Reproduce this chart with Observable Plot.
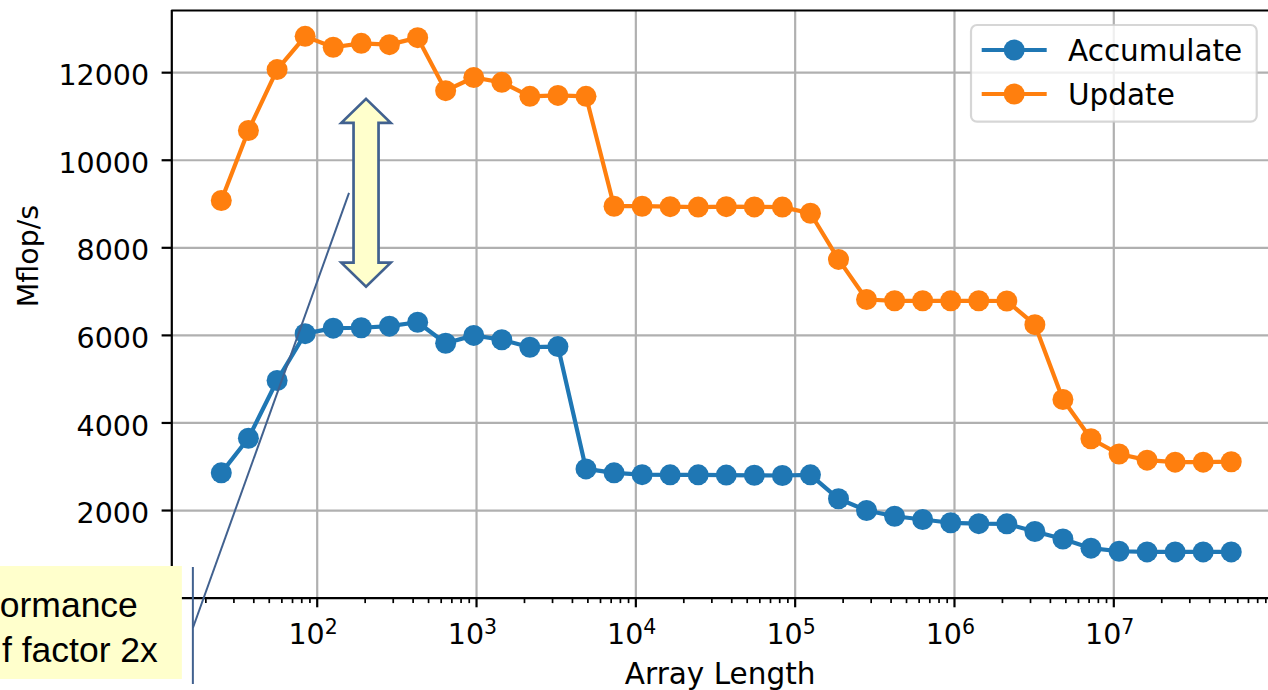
<!DOCTYPE html>
<html><head><meta charset="utf-8">
<script src="https://cdn.jsdelivr.net/npm/d3@7"></script>
<script src="https://cdn.jsdelivr.net/npm/@observablehq/plot@0.6"></script>
<style>
html,body{margin:0;padding:0;background:#fff}
#chart{width:1268px;height:690px;overflow:hidden;position:relative}
</style>
</head><body><div id="chart"></div><script>
// ---- data ----
const sizes = [25, 37, 56, 84, 126, 189, 284, 427, 640, 961, 1441, 2162, 3243, 4865, 7298,
  10947, 16421, 24632, 36948, 55422, 83133, 124700, 187050, 280575, 420863, 631294, 946941,
  1420412, 2130618, 3195927, 4793891, 7190836, 10786254, 16179381, 24269072, 36403608, 54605412];
const accumulate = [2860, 3650, 4970, 6040, 6165, 6175, 6210, 6300, 5820, 6000, 5900, 5730, 5745,
  2950, 2860, 2820, 2815, 2815, 2810, 2805, 2800, 2815, 2268, 2000, 1870, 1795, 1720, 1700, 1696,
  1520, 1350, 1140, 1070, 1055, 1055, 1055, 1055];
const update = [9080, 10680, 12070, 12830, 12580, 12670, 12640, 12800, 11590, 11890, 11780, 11460,
  11480, 11460, 8950, 8950, 8940, 8930, 8940, 8935, 8930, 8790, 7735, 6820, 6790, 6790, 6790, 6790,
  6785, 6245, 4535, 3640, 3290, 3150, 3105, 3105, 3115];
const seriesNames = ["Accumulate", "Update"];
const seriesColors = ["#1f77b4", "#ff7f0e"];
const yTicks = [2000, 4000, 6000, 8000, 10000, 12000];
const xMajor = [1e2, 1e3, 1e4, 1e5, 1e6, 1e7];
const xMajorExp = ["2", "3", "4", "5", "6", "7"];
const xLabel = "Array Length";
const yLabel = "Mflop/s";
const noteLines = ["ormance", "f factor 2x"];

// ---- build table ----
const rows = [
  ...sizes.map((s, i) => ({size: s, value: accumulate[i], series: seriesNames[0]})),
  ...sizes.map((s, i) => ({size: s, value: update[i], series: seriesNames[1]}))
];
const xMinor = [];
for (let e = 1; e <= 7; e++) for (let m = 2; m <= 9; m++) xMinor.push(m * 10 ** e);

const W = 1268, H = 690;
const xDomain = [10 ** 1.0873, 10 ** 7.971];
const yDomain = [0, 13420];
const grid = {stroke: "#b0b0b0", strokeOpacity: 1, strokeWidth: 2.2};
const spine = {stroke: "black", strokeWidth: 2.2};
const FS = 28.5;

const plot = Plot.plot({
  width: W, height: H,
  marginLeft: 171.3, marginTop: 10, marginBottom: 92.4, marginRight: 0,
  style: {fontFamily: "DejaVu Sans", fontSize: FS + "px", background: "white", color: "black"},
  x: {type: "log", domain: xDomain},
  y: {domain: yDomain},
  color: {domain: seriesNames, range: seriesColors},
  marks: [
    Plot.gridX(xMajor, grid),
    Plot.gridY(yTicks, grid),
    Plot.line(rows, {x: "size", y: "value", stroke: "series", strokeWidth: 4.2}),
    Plot.dot(rows, {x: "size", y: "value", fill: "series", r: 10.5}),
    Plot.ruleX([xDomain[0]], spine),
    Plot.ruleY([yDomain[0]], spine),
    Plot.ruleY([yDomain[1]], spine),
    Plot.axisY(yTicks, {tickSize: 9.7, strokeWidth: 2.2, tickFormat: () => "", label: null}),
    Plot.axisX(xMinor, {tickSize: 5.5, strokeWidth: 1.7, tickFormat: () => "", label: null}),
    Plot.axisX(xMajor, {tickSize: 9.7, strokeWidth: 2.2, tickFormat: () => "", label: null}),
    Plot.text(yTicks, {y: d => d, frameAnchor: "left", text: d => String(d), textAnchor: "end",
      lineAnchor: "middle", dx: -22.7, dy: 3.5, fontSize: FS}),
    Plot.text(xMajor, {x: d => d, frameAnchor: "bottom", text: () => "10", textAnchor: "end",
      lineAnchor: "bottom", dx: 7.5, dy: 45.7, fontSize: FS}),
    Plot.text(xMajor, {x: d => d, frameAnchor: "bottom", text: (d, i) => xMajorExp[i], textAnchor: "start",
      lineAnchor: "bottom", dx: 7.5, dy: 35.5, fontSize: 20.5}),
    Plot.text([xLabel], {frameAnchor: "bottom", lineAnchor: "bottom", dy: 85.4, fontSize: 29.5}),
    Plot.text([yLabel], {frameAnchor: "left", rotate: -90, dx: -143, dy: 3, fontSize: FS})
  ]
});
document.getElementById("chart").appendChild(plot);

// ---- overlays: legend and annotation, positioned through the plot's scales ----
const xs = plot.scale("x"), ys = plot.scale("y");
const svg = d3.select(plot);

// legend
const lg = svg.append("g");
lg.append("rect").attr("x", 971).attr("y", 25).attr("width", 285.7).attr("height", 96.7)
  .attr("rx", 6).attr("fill", "white").attr("fill-opacity", 0.8)
  .attr("stroke", "#cccccc").attr("stroke-opacity", 0.8).attr("stroke-width", 2.2);
seriesNames.forEach((name, i) => {
  const cy = 50 + i * 44;
  lg.append("line").attr("x1", 981.7).attr("x2", 1046.7).attr("y1", cy).attr("y2", cy)
    .attr("stroke", seriesColors[i]).attr("stroke-width", 4.2);
  lg.append("circle").attr("cx", 1014.2).attr("cy", cy).attr("r", 10.5).attr("fill", seriesColors[i]);
  lg.append("text").attr("x", 1068).attr("y", cy + 10.8).attr("font-family", "DejaVu Sans")
    .attr("text-anchor", "start").attr("font-size", 29.5).attr("fill", "black").text(name);
});

// double arrow between the two series
const annoBlue = "#41618f";
const ax = xs.apply(204), aTop = ys.apply(11390), aBot = ys.apply(7100);
const hl = 24, hh = 24.7, sh = 12.5;
const pts = [[ax, aTop], [ax + hh, aTop + hl], [ax + sh, aTop + hl], [ax + sh, aBot - hl], [ax + hh, aBot - hl],
  [ax, aBot], [ax - hh, aBot - hl], [ax - sh, aBot - hl], [ax - sh, aTop + hl], [ax - hh, aTop + hl]];
svg.append("path").attr("d", "M" + pts.map(p => p.join(",")).join("L") + "Z")
  .attr("fill", "#ffffcc").attr("stroke", annoBlue).attr("stroke-width", 2.7).attr("stroke-linejoin", "miter");

// callout line + box
const c0 = [xs.apply(159.5), ys.apply(9242)], c1 = [xs.apply(16.7), ys.apply(-694)];
svg.append("line").attr("x1", c0[0]).attr("y1", c0[1]).attr("x2", c1[0]).attr("y2", c1[1])
  .attr("stroke", annoBlue).attr("stroke-width", 2);
const boxTop = c1[1] - 62, boxBot = c1[1] + 51, boxRight = c1[0] - 11;
svg.append("rect").attr("x", -5).attr("y", boxTop).attr("width", boxRight + 5).attr("height", boxBot - boxTop)
  .attr("fill", "#ffffcc");
svg.append("line").attr("x1", c1[0]).attr("x2", c1[0]).attr("y1", boxTop + 1).attr("y2", boxBot + 5)
  .attr("stroke", annoBlue).attr("stroke-width", 2);
const noteEnds = [boxRight - 44, boxRight - 24];
const noteBase = [boxTop + 51.5, boxTop + 96];
noteLines.forEach((t, i) => {
  svg.append("text").attr("x", noteEnds[i]).attr("y", noteBase[i]).attr("text-anchor", "end")
    .attr("font-family", "Liberation Sans").attr("font-size", 35.5).attr("fill", "black").text(t);
});
</script></body></html>
